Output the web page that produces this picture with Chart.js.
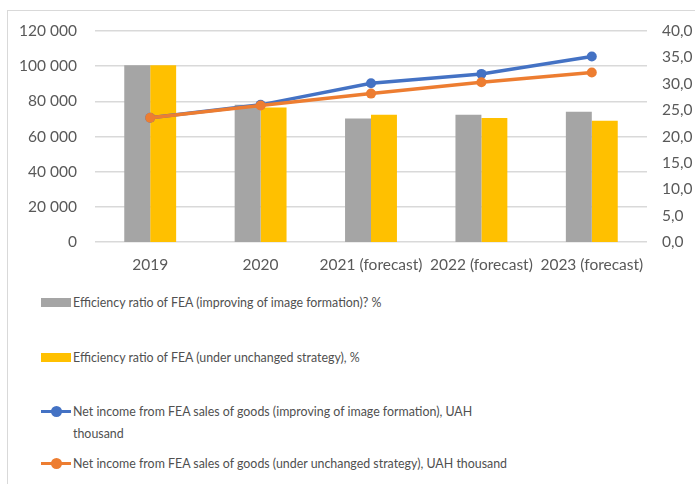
<!DOCTYPE html>
<html>
<head>
<meta charset="utf-8">
<script src="https://cdn.jsdelivr.net/npm/chart.js@4.4.1/dist/chart.umd.min.js"></script>
<style>
    body { margin: 0; background: #fff; font-family: Lato, sans-serif; }
    #frame { position: absolute; left: 7px; top: 10px; width: 720px; height: 500px; border: 1px solid #d9d9d9; }
    #wrap { position: absolute; left: 0; top: 0; width: 695px; height: 280px; }
    #legend ul { list-style: none; }
    .legends_li { position: absolute; left: 41px; display: flex; align-items: flex-start; }
    .legends_li:nth-child(1) { top: 292px; }
    .legends_li:nth-child(2) { top: 347px; }
    .legends_li:nth-child(3) { top: 401px; }
    .legends_li:nth-child(4) { top: 453px; }
    .legend_box { display: inline-block; width: 30px; height: 9px; margin-top: 6px; position: relative; }
    .legend_box.line { height: 3px; margin-top: 9px; }
    .legend_box.line i { position: absolute; left: 10px; top: -4px; width: 11px; height: 11px; border-radius: 50%; }
    .legend_text { margin: 0 0 0 2px; font-size: 12.4px; line-height: 22px; color: #505050; white-space: pre-line; }
</style>
</head>
<body>
<div id="frame"></div>
<div id="wrap"><canvas id="effChart"></canvas></div>
<div id="legend"></div>
<script>
var years = ["2019", "2020", "2021 (forecast)", "2022 (forecast)", "2023 (forecast)"];
var ratioImage = [33.5, 26.0, 23.4, 24.1, 24.7];
var ratioUnchanged = [33.5, 25.5, 24.1, 23.5, 23.0];
var incomeImage = [70700, 78000, 90300, 95600, 105500];
var incomeUnchanged = [70700, 77600, 84400, 90900, 96400];
var leftTicks = [0, 20000, 40000, 60000, 80000, 100000, 120000];
var rightTicks = [0, 5, 10, 15, 20, 25, 30, 35, 40];

var GREY = "#a5a5a5", GOLD = "#ffc000", BLUE = "#4472c4", ORANGE = "#ed7d31";
var tickFont = { family: "Lato", size: 15.5 };

var htmlLegendPlugin = {
    id: "htmlLegend",
    afterUpdate(chart, args, options) {
        var container = document.getElementById(options.containerID);
        var ul = container.querySelector("ul");
        if (!ul) {
            ul = document.createElement("ul");
            ul.style.margin = 0;
            ul.style.padding = 0;
            container.appendChild(ul);
        }
        while (ul.firstChild) ul.firstChild.remove();
        var items = chart.options.plugins.legend.labels.generateLabels(chart);
        items.sort(function (a, b) { return a.datasetIndex - b.datasetIndex; });
        items.forEach(function (item) {
            var ds = chart.data.datasets[item.datasetIndex];
            var li = document.createElement("li");
            li.className = "legends_li";
            var box = document.createElement("span");
            box.className = "legend_box";
            box.style.background = ds.type === "line" ? ds.borderColor : ds.backgroundColor;
            if (ds.type === "line") {
                box.className += " line";
                var dot = document.createElement("i");
                dot.style.background = ds.borderColor;
                box.appendChild(dot);
            }
            var p = document.createElement("p");
            p.className = "legend_text";
            p.appendChild(document.createTextNode(item.text));
            li.appendChild(box);
            li.appendChild(p);
            ul.appendChild(li);
        });
    }
};

function spaced(v) {
    return String(v).replace(/\B(?=(\d{3})+(?!\d))/g, " ");
}

var ctx = document.getElementById("effChart");
var myChart = new Chart(ctx, {
    data: {
        labels: years,
        datasets: [
            { type: "bar", label: "Efficiency ratio of FEA (improving of image formation)? %", data: ratioImage, backgroundColor: GREY, yAxisID: "yR", order: 3, categoryPercentage: 0.47, barPercentage: 1 },
            { type: "bar", label: "Efficiency ratio of FEA (under unchanged strategy), %", data: ratioUnchanged, backgroundColor: GOLD, yAxisID: "yR", order: 3, categoryPercentage: 0.47, barPercentage: 1 },
            { type: "line", label: "Net income from FEA sales of goods (improving of image formation), UAH\nthousand", data: incomeImage, borderColor: BLUE, backgroundColor: BLUE, borderWidth: 3.5, pointRadius: 5, pointBorderWidth: 0, yAxisID: "yL", order: 2 },
            { type: "line", label: "Net income from FEA sales of goods (under unchanged strategy), UAH thousand", data: incomeUnchanged, borderColor: ORANGE, backgroundColor: ORANGE, borderWidth: 3.5, pointRadius: 5, pointBorderWidth: 0, yAxisID: "yL", order: 1 }
        ]
    },
    options: {
        responsive: true,
        maintainAspectRatio: false,
        animation: false,
        layout: { padding: { top: 31, left: 0, right: 0, bottom: 0 } },
        scales: {
            x: {
                grid: { display: false },
                border: { display: false },
                ticks: { color: "#595959", font: tickFont, padding: 6, autoSkip: false, maxRotation: 0 },
                afterFit: function (scale) { scale.height = 38; }
            },
            yL: {
                position: "left",
                min: 0, max: 120000,
                afterBuildTicks: function (scale) { scale.ticks = leftTicks.map(function (v) { return { value: v }; }); },
                ticks: { color: "#595959", font: tickFont, padding: 18, callback: function (v) { return spaced(v); } },
                grid: { color: "#d9d9d9", lineWidth: 1.5, drawTicks: false },
                border: { display: false },
                afterFit: function (scale) { scale.width = 95; }
            },
            yR: {
                position: "right",
                min: 0, max: 40,
                afterBuildTicks: function (scale) { scale.ticks = rightTicks.map(function (v) { return { value: v }; }); },
                ticks: { color: "#595959", font: tickFont, padding: 15, callback: function (v) { return v.toFixed(1).replace(".", ","); } },
                grid: { display: false, drawTicks: false },
                border: { display: false },
                afterFit: function (scale) { scale.width = 48; }
            }
        },
        plugins: {
            legend: { display: false },
            htmlLegend: { containerID: "legend" },
            tooltip: { enabled: false }
        }
    },
    plugins: [htmlLegendPlugin]
});
</script>
</body>
</html>
